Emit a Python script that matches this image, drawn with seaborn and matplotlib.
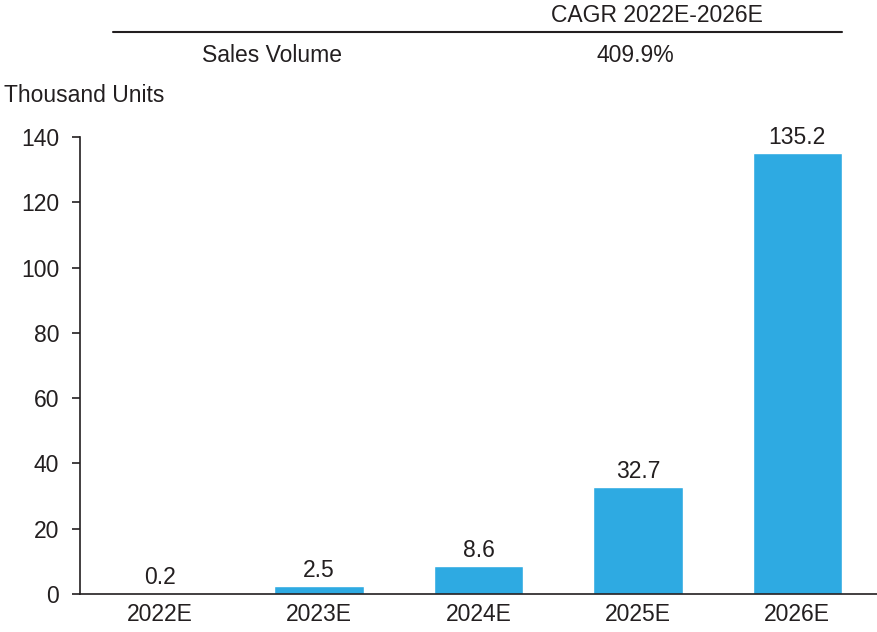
import seaborn as sns
import pandas as pd
import matplotlib.pyplot as plt
from matplotlib.lines import Line2D

years = ["2022E", "2023E", "2024E", "2025E", "2026E"]
volume = [0.2, 2.5, 8.6, 32.7, 135.2]
cagr_label = "CAGR 2022E-2026E"
row_label = "Sales Volume"
cagr_value = "409.9%"
unit_label = "Thousand Units"

df = pd.DataFrame({"year": years, "volume": volume})

sns.set_style("white")
plt.rcParams["font.family"] = ["Liberation Sans", "DejaVu Sans"]
text_color = "#231f20"
fs = 16.5

fig = plt.figure(figsize=(8.77, 6.32), dpi=100)
ax = fig.add_axes([80 / 877, 38 / 632, 797 / 877, 457 / 632])

sns.barplot(data=df, x="year", y="volume", color="#2eaae2", width=0.56,
            saturation=1, ax=ax)

# value labels above bars
for i, v in enumerate(volume):
    ax.annotate(f"{v:.1f}", (i, v), xytext=(0, 3), textcoords="offset points",
                ha="center", va="bottom", fontsize=fs, color=text_color)

ax.set_ylim(0, 140)
ax.set_xlim(-0.5, 4.5)
ax.set_yticks(range(0, 141, 20))
ax.set_xlabel("")
ax.set_ylabel("")
for s in ["top", "right"]:
    ax.spines[s].set_visible(False)
for s in ["left", "bottom"]:
    ax.spines[s].set_color(text_color)
    ax.spines[s].set_linewidth(1.2)
ax.tick_params(axis="y", left=True, length=6, width=1.2, color=text_color,
               labelsize=fs, labelcolor=text_color, pad=9)
ax.tick_params(axis="x", bottom=False, labelsize=fs, labelcolor=text_color, pad=3)

# header table above the chart
fig.text(657 / 877, 1 - 15 / 632, cagr_label, ha="center", va="center",
         fontsize=fs, color=text_color)
fig.add_artist(Line2D([113 / 877, 842 / 877], [1 - 32 / 632, 1 - 32 / 632],
                      color=text_color, linewidth=1.5, transform=fig.transFigure))
fig.text(272 / 877, 1 - 55 / 632, row_label, ha="center", va="center",
         fontsize=fs, color=text_color)
fig.text(635 / 877, 1 - 55 / 632, cagr_value, ha="center", va="center",
         fontsize=fs, color=text_color)
fig.text(4 / 877, 1 - 95 / 632, unit_label, ha="left", va="center",
         fontsize=fs, color=text_color)

fig.savefig("out.png", dpi=100)
